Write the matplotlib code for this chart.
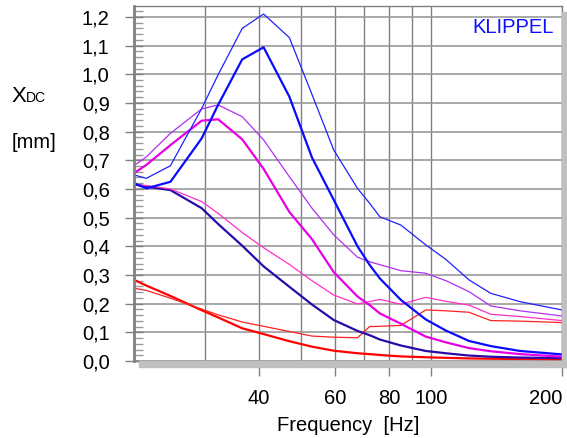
import matplotlib
matplotlib.use("Agg")
import matplotlib.pyplot as plt
from matplotlib.ticker import FixedLocator, NullFormatter, FuncFormatter
from matplotlib.patches import Rectangle

plt.rcParams['font.family'] = ['Liberation Sans', 'DejaVu Sans']

# frequency points (Hz)
freq = [20.6, 22, 25, 29.5, 32.2, 36.6, 41, 47, 53, 59.5, 67.5, 72, 76, 85, 97, 108, 122, 137, 160, 200]

# X_DC in mm, one list per curve
blue_thin = [0.649, 0.637, 0.681, 0.88, 0.998, 1.160, 1.210, 1.128, 0.93, 0.736, 0.602, 0.55, 0.503, 0.474, 0.405, 0.354, 0.283, 0.236, 0.207, 0.178]
blue_thick = [0.620, 0.602, 0.625, 0.776, 0.893, 1.052, 1.094, 0.922, 0.71, 0.562, 0.40, 0.335, 0.288, 0.213, 0.145, 0.106, 0.07, 0.052, 0.035, 0.023]
violet_thin = [0.681, 0.712, 0.794, 0.879, 0.893, 0.852, 0.771, 0.643, 0.533, 0.44, 0.362, 0.346, 0.336, 0.315, 0.306, 0.28, 0.242, 0.192, 0.175, 0.157]
magenta_thick = [0.655, 0.684, 0.753, 0.838, 0.843, 0.773, 0.67, 0.52, 0.425, 0.31, 0.225, 0.195, 0.166, 0.13, 0.085, 0.065, 0.045, 0.034, 0.024, 0.015]
pink_thin = [0.616, 0.612, 0.600, 0.556, 0.515, 0.448, 0.395, 0.337, 0.28, 0.23, 0.199, 0.207, 0.215, 0.198, 0.222, 0.208, 0.195, 0.163, 0.155, 0.141]
navy_thick = [0.616, 0.608, 0.596, 0.533, 0.478, 0.402, 0.33, 0.259, 0.197, 0.143, 0.105, 0.09, 0.075, 0.054, 0.035, 0.027, 0.019, 0.015, 0.012, 0.010]
red_thin = [0.254, 0.246, 0.219, 0.181, 0.161, 0.136, 0.121, 0.103, 0.087, 0.083, 0.081, 0.120, 0.121, 0.124, 0.178, 0.175, 0.170, 0.141, 0.139, 0.134]
red_thick = [0.283, 0.263, 0.227, 0.177, 0.152, 0.114, 0.094, 0.069, 0.05, 0.036, 0.027, 0.024, 0.021, 0.016, 0.013, 0.011, 0.009, 0.008, 0.007, 0.006]

x_major = [40, 60, 80, 100, 200]
x_minor = [30, 50, 70, 90]

fig = plt.figure(figsize=(5.67, 4.38), dpi=100)
ax = fig.add_axes([134/567, 1-361/438, (562-134)/567, (361-6)/438])

# shadow behind the frame
fig.patches.append(Rectangle((139/567, 1-367/438), (567-139)/567, 6/438,
                             transform=fig.transFigure, color='#c0c0c0', zorder=0))
fig.patches.append(Rectangle((562/567, 1-367/438), 5/567, (367-12)/438,
                             transform=fig.transFigure, color='#c0c0c0', zorder=0))

ax.plot(freq, red_thick, color='#ff0000', lw=1.6)
ax.plot(freq, red_thin, color='#ff2020', lw=0.9)
ax.plot(freq, navy_thick, color='#2a0aa8', lw=1.6)
ax.plot(freq, pink_thin, color='#ff30c8', lw=0.9)
ax.plot(freq, magenta_thick, color='#e600e6', lw=1.6)
ax.plot(freq, violet_thin, color='#b030f0', lw=0.9)
ax.plot(freq, blue_thick, color='#0a0aff', lw=1.6)
ax.plot(freq, blue_thin, color='#2020ff', lw=0.9)

ax.set_xscale('log')
ax.set_xlim(20.6, 200)
ax.set_ylim(0, 1.238)

ax.xaxis.set_major_locator(FixedLocator(x_major))
ax.xaxis.set_major_formatter(FuncFormatter(lambda v, p: '%d' % round(v)))
ax.xaxis.set_minor_locator(FixedLocator(x_minor))
ax.xaxis.set_minor_formatter(NullFormatter())
ax.set_yticks([i / 10 for i in range(13)])
ax.yaxis.set_major_formatter(FuncFormatter(lambda v, p: ('%.1f' % v).replace('.', ',')))
ax.set_yticks([i / 50 for i in range(62)], minor=True)

ax.tick_params(axis='x', which='major', direction='out', length=11, width=1,
               color='#808080', labelsize=14.5, pad=9)
ax.tick_params(axis='x', which='minor', length=0)
ax.tick_params(axis='y', which='major', direction='inout', length=13, width=1,
               color='#808080', labelsize=14.5, pad=11)
ax.tick_params(axis='y', which='minor', direction='in', length=6.5, width=1, color='#999999')

for t in ax.xaxis.get_major_ticks():
    if t.get_loc() == 100:
        t.tick1line.set_visible(False)
ax.get_xticklabels()[-1].set_horizontalalignment('right')

ax.xaxis.grid(True, which='both', color='#808080', lw=1)
ax.yaxis.grid(True, which='major', color='#9a9a9a', lw=1.2)
ax.set_axisbelow(True)
for s in ax.spines.values():
    s.set_color('#808080')
    s.set_linewidth(1)
ax.spines['left'].set_linewidth(2)

ax.set_xlabel('Frequency  [Hz]', fontsize=14.5, labelpad=6)
ax.text(0.98, 0.965, 'KLIPPEL', transform=ax.transAxes, ha='right', va='top',
        color='#1010ff', fontsize=14.5)

fig.text(12/567, 1-102/438, 'X', fontsize=16, ha='left', va='baseline')
fig.text(26/567, 1-102/438, 'DC', fontsize=10, ha='left', va='baseline')
fig.text(12/567, 1-143/438, '[mm]', fontsize=14.5, ha='left', va='center')

fig.savefig('out.png', dpi=100)
